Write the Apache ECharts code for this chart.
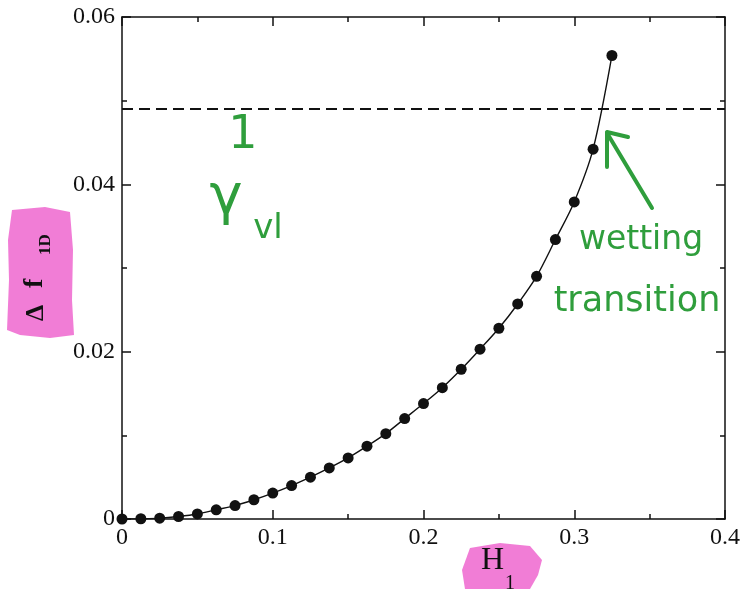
<!DOCTYPE html>
<html>
<head>
<meta charset="utf-8">
<script src="https://cdn.jsdelivr.net/npm/echarts@6/dist/echarts.min.js"></script>
<style>html,body{margin:0;padding:0;background:#fff;}#c{width:746px;height:589px;}</style>
</head>
<body>
<div id="c"></div>
<script>
// H1 values (x) and Delta f_1D values (y)
var hValues = [0, 0.0125, 0.025, 0.0375, 0.05, 0.0625, 0.075, 0.0875, 0.1, 0.1125, 0.125, 0.1375, 0.15, 0.1625,
  0.175, 0.1875, 0.2, 0.2125, 0.225, 0.2375, 0.25, 0.2625, 0.275, 0.2875, 0.3, 0.3125, 0.325];
var dfValues = [0, 0.00003, 0.0001, 0.0003, 0.0006, 0.0011, 0.0016, 0.0023, 0.0031, 0.0040, 0.0050, 0.0061, 0.0073, 0.0087,
  0.0102, 0.0120, 0.0138, 0.0157, 0.0179, 0.0203, 0.0228, 0.0257, 0.0290, 0.0334, 0.0379, 0.0442, 0.0554];
// dashed level 1/gamma_vl
var dashedX = [0, 0.4];
var dashedY = [0.049, 0.049];
var xTicks = ['0', '0.1', '0.2', '0.3', '0.4'];
var yTicks = ['0', '0.02', '0.04', '0.06'];

var chart = echarts.init(document.getElementById('c'));
var serif = 'Liberation Serif';
var hand = 'DejaVu Sans';
var green = '#2f9e3c';
var pink = '#ef6fd2';

var curve = hValues.map(function (h, i) { return [h, dfValues[i]]; });
var dashed = dashedX.map(function (h, i) { return [h, dashedY[i]]; });

function axisCommon(showLabel, labels, fmtStep) {
  return {
    axisLine: { show: true, onZero: false, lineStyle: { color: '#111', width: 1.5 } },
    axisTick: { show: true, inside: true, length: 9, lineStyle: { color: '#111', width: 1.5 } },
    minorTick: { show: true, splitNumber: 2, length: 5, lineStyle: { color: '#111', width: 1.5 } },
    splitLine: { show: false },
    axisLabel: {
      show: showLabel, fontFamily: serif, fontSize: 24, color: '#111', margin: 7,
      formatter: function (v) { var i = Math.round(v / fmtStep); return labels[i] !== undefined ? labels[i] : ''; }
    }
  };
}

var option = {
  backgroundColor: '#fff',
  animation: false,
  grid: { left: 122, right: 21, top: 17, bottom: 70 },
  xAxis: [
    Object.assign({ type: 'value', min: 0, max: 0.4, interval: 0.1, position: 'bottom' }, axisCommon(true, xTicks, 0.1)),
    Object.assign({ type: 'value', min: 0, max: 0.4, interval: 0.1, position: 'top' }, axisCommon(false, xTicks, 0.1))
  ],
  yAxis: [
    Object.assign({ type: 'value', min: 0, max: 0.06, interval: 0.02, position: 'left' }, axisCommon(true, yTicks, 0.02)),
    Object.assign({ type: 'value', min: 0, max: 0.06, interval: 0.02, position: 'right' }, axisCommon(false, yTicks, 0.02))
  ],
  series: [
    {
      type: 'line', data: dashed, xAxisIndex: 0, yAxisIndex: 0, showSymbol: false, symbol: 'none',
      lineStyle: { color: '#111', width: 2, type: [11, 6] }, z: 3
    },
    {
      type: 'line', data: curve, xAxisIndex: 0, yAxisIndex: 0, smooth: 0.3,
      symbol: 'circle', symbolSize: 11, itemStyle: { color: '#111' },
      lineStyle: { color: '#111', width: 1.4 }, z: 4
    }
  ],
  graphic: [
    // pink highlighter behind y-axis title
    { type: 'polygon', z: 1, shape: { points: [[12, 210], [45, 207], [70, 212], [73, 250], [72, 300], [74, 335], [50, 338], [20, 335], [7, 330], [9, 280], [8, 240]] },
      style: { fill: pink, opacity: 0.9 } },
    // pink highlighter behind x-axis title
    { type: 'polygon', z: 1, shape: { points: [[470, 548], [500, 543], [530, 546], [542, 560], [538, 575], [530, 589], [465, 589], [462, 570]] },
      style: { fill: pink, opacity: 0.9 } },
    // y-axis title: Delta f_1D (rotated)
    { type: 'group', x: 49, y: 321, rotation: Math.PI / 2, children: [
      { type: 'text', z: 10, x: 0, y: 0, style: { text: 'Δ', font: 'bold 26px "' + serif + '"', fill: '#111', textAlign: 'left', textVerticalAlign: 'bottom' } },
      { type: 'text', z: 10, x: 33, y: 0, style: { text: 'f', font: 'bold 28px "' + serif + '"', fill: '#111', textAlign: 'left', textVerticalAlign: 'bottom' } },
      { type: 'text', z: 10, x: 66, y: 5, style: { text: '1D', font: 'bold 17px "' + serif + '"', fill: '#111', textAlign: 'left', textVerticalAlign: 'bottom' } }
    ] },
    // x-axis title: H_1
    { type: 'text', z: 10, x: 481, y: 577, style: { text: 'H', font: '32px "' + serif + '"', fill: '#111', textAlign: 'left', textVerticalAlign: 'bottom' } },
    { type: 'text', z: 10, x: 505, y: 594, style: { text: '1', font: '20px "' + serif + '"', fill: '#111', textAlign: 'left', textVerticalAlign: 'bottom' } },
    // green handwritten annotation: 1 / gamma_vl
    { type: 'text', z: 10, x: 243, y: 136, style: { text: '1', font: '46px "' + hand + '"', fill: green, textAlign: 'center', textVerticalAlign: 'middle' } },
    { type: 'text', z: 10, x: 226, y: 198, style: { text: 'γ', font: '56px "' + hand + '"', fill: green, textAlign: 'center', textVerticalAlign: 'middle' } },
    { type: 'text', z: 10, x: 268, y: 229, style: { text: 'vl', font: '34px "' + hand + '"', fill: green, textAlign: 'center', textVerticalAlign: 'middle' } },
    // green handwritten annotation: wetting transition
    { type: 'text', z: 10, x: 641, y: 240, style: { text: 'wetting', font: '33px "' + hand + '"', fill: green, textAlign: 'center', textVerticalAlign: 'middle' } },
    { type: 'text', z: 10, x: 637, y: 302, style: { text: 'transition', font: '35px "' + hand + '"', fill: green, textAlign: 'center', textVerticalAlign: 'middle' } },
    // green arrow
    { type: 'polyline', z: 10, shape: { points: [[652, 208], [607, 133]] }, style: { stroke: green, lineWidth: 4, fill: null, lineCap: 'round' } },
    { type: 'polyline', z: 10, shape: { points: [[628, 137], [607, 132], [607, 167]] }, style: { stroke: green, lineWidth: 4, fill: null, lineCap: 'round', lineJoin: 'round' } }
  ]
};
chart.setOption(option);
</script>
</body>
</html>
